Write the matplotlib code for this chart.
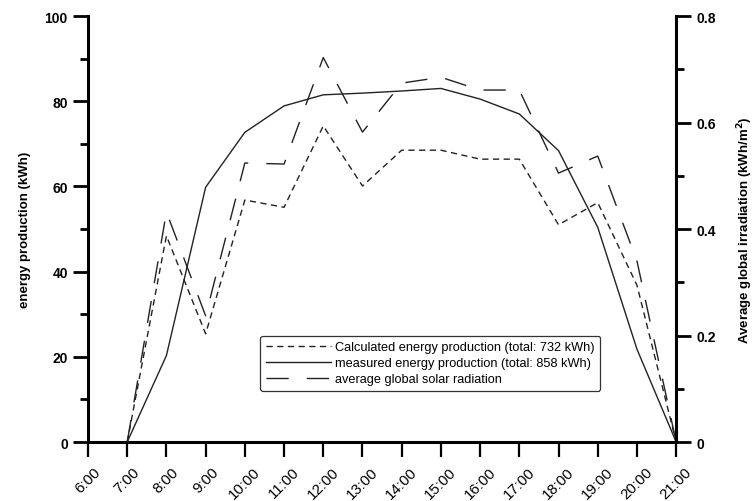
import matplotlib
matplotlib.use("Agg")
import matplotlib.pyplot as plt
from matplotlib.ticker import MultipleLocator

plt.rcParams['font.family'] = ['Liberation Sans', 'DejaVu Sans']

hours = [7, 8, 9, 10, 11, 12, 13, 14, 15, 16, 17, 18, 19, 20, 21]
hour_ticks = list(range(6, 22))
tick_labels = [f"{h}:00" for h in hour_ticks]

calculated = [0, 48.4, 25.4, 56.8, 55.1, 74.2, 60.1, 68.5, 68.5, 66.4, 66.4, 51.0, 56.2, 36.8, 0]
measured = [0, 20.3, 59.8, 72.7, 78.9, 81.5, 81.9, 82.4, 83.0, 80.5, 77.0, 68.4, 50.4, 21.8, 0]
radiation = [0, 0.432, 0.237, 0.524, 0.522, 0.722, 0.582, 0.674, 0.685, 0.661, 0.661, 0.505, 0.537, 0.340, 0]

fig = plt.figure(figsize=(7.56, 5.02), dpi=100)
ax = fig.add_axes([0.1164, 0.1175, 0.778, 0.8486])
ax2 = ax.twinx()

col = '#222222'
l1, = ax.plot(hours, calculated, color=col, lw=1.0, dashes=(4.5, 3.2),
              label='Calculated energy production (total: 732 kWh)')
l2, = ax.plot(hours, measured, color=col, lw=1.0,
              label='measured energy production (total: 858 kWh)')
l3, = ax2.plot(hours, radiation, color=col, lw=1.0, dashes=(16, 13),
               label='average global solar radiation')

ax.set_xlim(6, 21)
ax.set_ylim(0, 100)
ax2.set_ylim(0, 0.8)

ax.set_xticks(hour_ticks)
ax.set_xticklabels(tick_labels, rotation=45, ha='center')
ax.yaxis.set_major_locator(MultipleLocator(20))
ax.yaxis.set_minor_locator(MultipleLocator(10))
ax2.yaxis.set_minor_locator(MultipleLocator(0.1))
ax2.set_yticks([0, 0.2, 0.4, 0.6, 0.8])
ax2.set_yticklabels(['0', '0.2', '0.4', '0.6', '0.8'])

for a in (ax, ax2):
    a.spines['top'].set_visible(False)
    for s in a.spines.values():
        s.set_linewidth(2.2)
    a.tick_params(which='major', length=11, width=2, labelsize=10)
    a.tick_params(which='minor', length=6, width=2)
    for t in a.get_yticklabels():
        t.set_fontweight('bold')
ax.tick_params(axis='x', width=1.6, pad=5, labelsize=10.8)
ax.spines['right'].set_visible(False)
ax2.spines['left'].set_visible(False)
ax2.spines['bottom'].set_visible(False)

ax.set_ylabel('energy production (kWh)', fontsize=9.5, fontweight='bold', labelpad=10)
ax2.set_ylabel('Average global irradiation (kWh/m$^\\mathbf{2}$)', fontsize=9.5,
               fontweight='bold', labelpad=14)

leg = ax.legend(handles=[l1, l2, l3], loc='lower right', bbox_to_anchor=(0.871, 0.12),
                borderaxespad=0, fontsize=9.2, frameon=True, fancybox=True,
                handlelength=5.1, handletextpad=0.3, labelspacing=0.3,
                borderpad=0.45, edgecolor='#333333')
leg.get_frame().set_linewidth(0.9)
leg.get_frame().set_alpha(1)

fig.savefig('out.png', dpi=100)
